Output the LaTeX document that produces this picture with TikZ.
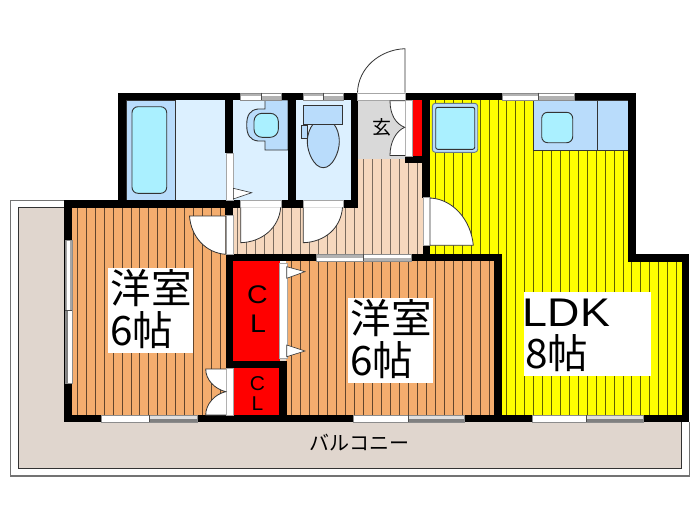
\documentclass[tikz,border=0pt]{standalone}
\usepackage{fontspec}
\setmainfont{Liberation Sans}
\newfontfamily\jp{Noto Sans CJK JP}
\definecolor{balc}{HTML}{E0D6CE}
\definecolor{orng}{HTML}{F4AD6E}
\definecolor{hallc}{HTML}{F6D8BE}
\definecolor{ylw}{HTML}{FFFF00}
\definecolor{wetc}{HTML}{DCF0FF}
\definecolor{fixt}{HTML}{B9DCFB}
\definecolor{cyanc}{HTML}{AAF0FF}
\definecolor{genk}{HTML}{D9D9D9}
\definecolor{ink}{HTML}{333333}
\tikzset{
  wall/.style={fill=black,draw=none},
  orstripe/.style={draw=black!60!orng,line width=1.0pt},
  hastripe/.style={draw=black!50!hallc,line width=1.0pt},
  ylstripe/.style={draw=black!62!ylw,line width=1.0pt},
  fixture/.style={draw=ink,line width=0.9pt},
  doorleaf/.style={draw=ink,line width=0.8pt,fill=white},
  strip/.style={fill=white,draw=black!35,line width=0.4pt},
  bigtext/.style={anchor=base west,inner sep=0pt,font=\fontsize{40.5}{40}\selectfont\jp},
  latin/.style={anchor=base,inner sep=0pt},
  triangle/.style={fill=white,draw=ink,line width=0.6pt},
}
% horizontal window: x0,xm,x1,ytop; upper/lower pane colours left and right
\newcommand{\hwin}[8]{%
  \fill[#5] (#1,#4) rectangle (#2,{#4+3.6});
  \fill[#6] (#1,{#4+3.6}) rectangle (#2,{#4+7.3});
  \fill[#7] (#2,#4) rectangle (#3,{#4+3.6});
  \fill[#8] (#2,{#4+3.6}) rectangle (#3,{#4+7.3});
  \draw[black!45,line width=0.4pt] (#1,#4) rectangle (#3,{#4+7.3});
  \draw[black!70,line width=0.7pt] (#2,#4) -- (#2,{#4+7.3});
}
\begin{document}
\begin{tikzpicture}[x=1pt,y=-1pt]
\useasboundingbox (0,0) rectangle (700,525);
\fill[white] (0,0) rectangle (700,525);
% balcony
\draw[fill=white,draw=black!55,line width=1.4pt] (64,200.5) -- (10.5,200.5) -- (10.5,476) -- (689.3,476) -- (689.3,422);
\draw[fill=balc,draw=black!80,line width=0.9pt] (64,207.5) -- (18,207.5) -- (18,468.3) -- (681.7,468.3) -- (681.7,422);
% room fills
\fill[orng] (72,207) rectangle (226,415);
\fill[orng] (286,261) rectangle (494,415);
\fill[hallc] (233,207) -- (358,207) -- (358,159) -- (423,159) -- (423,254.5) -- (233,254.5) -- cycle;
\fill[ylw] (430,100) -- (628,100) -- (628,261) -- (682,261) -- (682,415) -- (501,415) -- (501,254) -- (430,254) -- cycle;
% stripes
\begin{scope}
\clip (72,207) rectangle (226,415);
\foreach \k in {0,...,16} \draw[orstripe] ({77.3+\k*8.95},207) -- ++(0,208);
\end{scope}
\begin{scope}
\clip (286,261) rectangle (494,415);
\foreach \k in {0,...,22} \draw[orstripe] ({291+\k*9},261) -- ++(0,154);
\end{scope}
\begin{scope}
\clip (233,207) -- (358,207) -- (358,159) -- (423,159) -- (423,254.5) -- (233,254.5) -- cycle;
\foreach \k in {0,...,20} \draw[hastripe] ({237.7+\k*8.97},159) -- ++(0,96);
\end{scope}
\begin{scope}
\clip (430,100) -- (628,100) -- (628,261) -- (682,261) -- (682,415) -- (501,415) -- (501,254) -- (430,254) -- cycle;
\foreach \k in {0,...,27} \draw[ylstripe] ({435.5+\k*8.93},100) -- ++(0,315);
\end{scope}
% wet rooms
\fill[wetc] (126,100) rectangle (226,200);
\fill[wetc] (233,100) rectangle (288,200);
\fill[wetc] (295.5,100) rectangle (351,200);
\fill[genk] (358,100) rectangle (406,159);
% bath
\draw[fixture,fill=fixt] (126,100) rectangle (175.7,200);
\draw[fixture,fill=cyanc,rounded corners=6pt] (132,106.7) rectangle (166.7,193.3);
% wash basin
\draw[fixture,fill=fixt] (265,100) -- (265,109) -- (258,109)
  .. controls (250,110) and (246.7,115) .. (246.7,125)
  .. controls (246.7,135) and (250,140) .. (258,141) -- (265,141) -- (265,150) -- (288,150) -- (288,100) -- cycle;
\draw[fixture,fill=cyanc,rounded corners=8pt] (254,113.3) rectangle (278.3,137.3);
% toilet
\draw[fixture,fill=fixt] (323.3,167.7) .. controls (314,167.7) and (307.3,152) .. (307.3,142)
  .. controls (307.3,134) and (310,128) .. (313,124.3) -- (334,124.3)
  .. controls (337,128) and (339.3,134) .. (339.3,142)
  .. controls (339.3,152) and (332.6,167.7) .. (323.3,167.7) -- cycle;
\draw[fixture,fill=fixt] (303.3,105.3) rectangle (342.7,124.3);
\draw[fixture,fill=fixt] (301,125) rectangle (307.7,138.3);
% kitchen appliance
\draw[draw=black!45!fixt,fill=fixt,line width=0.9pt,rounded corners=3pt] (432.3,103.3) rectangle (477.7,152.3);
\draw[fixture,fill=cyanc,rounded corners=2pt] (435.7,107.3) rectangle (474.7,149.3);
% kitchen counter
\draw[fixture,fill=fixt] (533.3,100) rectangle (597.3,150);
\draw[fixture,fill=fixt] (597.3,100) rectangle (628,150);
\draw[fixture,fill=cyanc,rounded corners=6pt] (541.7,112.3) rectangle (572.7,142.7);
% closets
\fill[red] (232.7,261) rectangle (279.5,361);
\fill[red] (232.7,368) rectangle (279.5,414.5);
\fill[red] (411.7,100) rectangle (422.5,155.7);
% walls
\fill[wall] (118,92.7) rectangle (358,100);
\fill[wall] (118,92.7) rectangle (125.7,208);
\fill[wall] (64,200) rectangle (358,207.5);
\fill[wall] (225.3,100) rectangle (233,153.3);
\fill[wall] (225.3,200) rectangle (233,215);
\fill[wall] (287.7,100) rectangle (295.5,207);
\fill[wall] (350.7,92.7) rectangle (358,207.5);
\fill[wall] (405,92.7) rectangle (636,100);
\fill[wall] (422.3,92.7) rectangle (430,198);
\fill[wall] (405,155.7) rectangle (430,163);
\fill[wall] (422.5,245.5) rectangle (430,261);
\fill[wall] (628.3,92.7) rectangle (636,261.7);
\fill[wall] (628.3,254) rectangle (689.3,261.7);
\fill[wall] (681.7,254) rectangle (689.3,422.3);
\fill[wall] (64,200) rectangle (72,422.3);
\fill[wall] (64,414.5) rectangle (689.3,422.3);
\fill[wall] (226,254) rectangle (501.7,261.3);
\fill[wall] (494,254) rectangle (501.7,422.3);
\fill[wall] (226,254) rectangle (232.8,422.3);
\fill[wall] (232,361) rectangle (286.7,368.3);
\fill[wall] (279.3,361) rectangle (286.7,422.3);
% top windows
\hwin{240}{261}{280.7}{92.7}{black!30}{white}{white}{black!30}
\hwin{303}{323.5}{343}{92.7}{black!30}{white}{white}{black!30}
\hwin{501.7}{538}{574}{92.7}{black!30}{white}{white}{black!30}
% bottom windows
\hwin{101}{149}{196.7}{415}{white}{white}{black!12}{black!50}
\hwin{352.7}{408.3}{464}{415}{white}{white}{black!12}{black!50}
\hwin{531.7}{586.7}{642.7}{415}{white}{white}{black!12}{black!50}
% window between hall and room 2
\hwin{315.7}{363}{411}{254}{black!30}{white}{white}{black!30}
% left window
\fill[white] (65,240) rectangle (71.7,383);
\fill[black!35] (65,240) rectangle (66.5,310);
\fill[black!35] (70,240) rectangle (71.7,310);
\fill[black!50] (65,310) rectangle (68,383);
\draw[black!45,line width=0.4pt] (65,240) rectangle (71.7,383);
\draw[black!70,line width=0.7pt] (64.5,310) -- (72,310);
% door strips
\fill[strip] (226,153.3) rectangle (232.7,200.5);
\fill[strip] (240.5,200) rectangle (280.7,207.3);
\fill[strip] (303.3,200) rectangle (343,207.3);
\fill[strip] (226,215) rectangle (232.8,254);
\fill[strip] (279.3,263) rectangle (286.7,358);
\fill[strip] (226,368.3) rectangle (232.7,415);
\fill[strip] (422.7,197.5) rectangle (430,245.5);
\fill[strip] (357.5,92.7) rectangle (405,100);
\fill[strip] (405,100) rectangle (411.7,155.7);
% door leaves
\draw[doorleaf] (240.7,207.3) -- (240.7,242.7) .. controls (262,242) and (279,228) .. (280.7,207.3);
\draw[doorleaf] (303.3,207.3) -- (303.3,242.7) .. controls (325,242) and (341,228) .. (342.5,207.3);
\draw[doorleaf] (225.7,254.3) -- (225.7,216) -- (189.5,216) .. controls (191,237) and (206,253) .. (225.7,254.3);
\draw[doorleaf] (430,245.3) -- (430,198) .. controls (453,199) and (471,220) .. (473.3,245.3) -- cycle;
\draw[doorleaf,fill=none] (357.5,92.7) .. controls (358,68) and (380,49.5) .. (405,48.7) -- (405,92.7);
\draw[doorleaf] (405,100.7) -- (390,100.7) .. controls (390,115) and (396,124) .. (404.7,127.3)
  .. controls (396,131) and (390,142) .. (390,155.5) -- (405,155.5);
\draw[doorleaf] (226,369) -- (205.7,369) .. controls (205.7,380) and (215,389) .. (225.7,391.7)
  .. controls (215,394) and (205.7,404) .. (205.7,415) -- (226,415);
% sliding door triangles
\draw[triangle] (233.3,188.3) -- (251.7,192.7) -- (233.3,199) -- cycle;
\draw[triangle] (286.7,266.7) -- (305,271.7) -- (286.7,278.3) -- cycle;
\draw[triangle] (286.7,345) -- (305,351) -- (286.7,356.7) -- cycle;
% label boxes
\fill[white] (108.3,268.3) rectangle (193.3,353.3);
\fill[white] (348.3,298.3) rectangle (433.3,383.3);
\fill[white] (524,291.7) rectangle (651,376);
% texts
\node[bigtext] (r1a) at (110.5,303) {洋室};
\node[bigtext] (r1b) at (110,345) {6帖};
\node[bigtext] (r2a) at (350.5,333) {洋室};
\node[bigtext] (r2b) at (350,375) {6帖};
\node[anchor=base west,inner sep=0pt,font=\fontsize{40}{40}\selectfont] (ldk) at (522.6,326) {\addfontfeatures{FakeStretch=1.12}LDK};
\node[bigtext] (ldkb) at (525,368.3) {8帖};
\node[latin,font=\fontsize{25.5}{26}\selectfont] (cl1a) at (257.5,303) {\addfontfeatures{FakeStretch=1.12}C};
\node[latin,font=\fontsize{25.5}{26}\selectfont] (cl1b) at (258,332) {\addfontfeatures{FakeStretch=1.12}L};
\node[latin,font=\fontsize{20}{20}\selectfont] (cl2a) at (257.5,390) {\addfontfeatures{FakeStretch=1.05}C};
\node[latin,font=\fontsize{20}{20}\selectfont] (cl2b) at (257.5,410.7) {\addfontfeatures{FakeStretch=1.05}L};
\node[inner sep=0pt,font=\fontsize{19}{19}\selectfont\jp] (gen) at (381.5,127) {玄};
\node[inner sep=0pt,font=\fontsize{20}{20}\selectfont\jp] (balt) at (359.5,443) {バルコニー};
\end{tikzpicture}
\end{document}
